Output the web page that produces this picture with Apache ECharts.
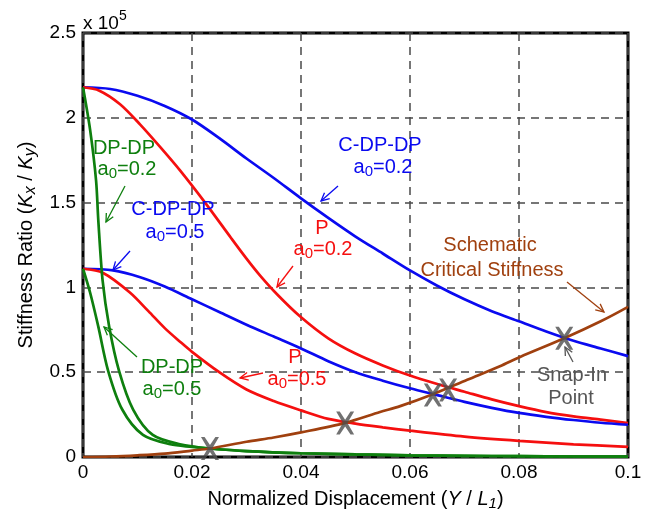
<!DOCTYPE html>
<html>
<head>
<meta charset="utf-8">
<script src="https://cdn.jsdelivr.net/npm/echarts@6/dist/echarts.min.js"></script>
<style>
  html, body { margin: 0; padding: 0; background: #fff; }
  #chart { width: 661px; height: 516px; }
</style>
</head>
<body>
<div id="chart"></div>
<script>
// stiffness ratio curves, y in units of 1e5
var cdp02X = [0, 0.005, 0.01, 0.015, 0.02, 0.025, 0.03, 0.035, 0.04, 0.045, 0.05, 0.055, 0.06, 0.065, 0.07, 0.075, 0.08, 0.085, 0.09, 0.095, 0.1];
var cdp02Y = [2.18, 2.17, 2.13, 2.07, 1.99, 1.88, 1.76, 1.645, 1.525, 1.41, 1.30, 1.20, 1.10, 1.01, 0.93, 0.86, 0.80, 0.74, 0.685, 0.64, 0.595];

var p02X = [0, 0.003, 0.0068, 0.0105, 0.0141, 0.0178, 0.0224, 0.0272, 0.030, 0.0325, 0.0356, 0.0398, 0.045, 0.05, 0.055, 0.06, 0.065, 0.07, 0.075, 0.08, 0.085, 0.09, 0.095, 0.1];
var p02Y = [2.18, 2.16, 2.08, 1.96, 1.83, 1.69, 1.50, 1.29, 1.17, 1.07, 0.96, 0.83, 0.70, 0.61, 0.54, 0.48, 0.43, 0.385, 0.34, 0.30, 0.265, 0.24, 0.22, 0.20];

var cdp05X = [0, 0.0055, 0.0105, 0.015, 0.02, 0.025, 0.03, 0.035, 0.04, 0.045, 0.05, 0.055, 0.06, 0.065, 0.07, 0.075, 0.08, 0.085, 0.09, 0.095, 0.1];
var cdp05Y = [1.11, 1.10, 1.06, 1.005, 0.93, 0.855, 0.78, 0.71, 0.64, 0.565, 0.50, 0.45, 0.405, 0.365, 0.325, 0.29, 0.26, 0.237, 0.218, 0.202, 0.19];

var p05X = [0, 0.0037, 0.0086, 0.012, 0.015, 0.0178, 0.02, 0.025, 0.03, 0.035, 0.04, 0.045, 0.05, 0.055, 0.06, 0.07, 0.08, 0.09, 0.1];
var p05Y = [1.11, 1.085, 0.97, 0.86, 0.76, 0.68, 0.62, 0.50, 0.398, 0.33, 0.275, 0.225, 0.197, 0.175, 0.155, 0.12, 0.095, 0.075, 0.06];

var dp02X = [0, 0.0013, 0.0024, 0.0028, 0.0036, 0.0048, 0.0066, 0.0092, 0.0128, 0.0178, 0.0233, 0.03, 0.04, 0.05, 0.06, 0.07, 0.08, 0.09, 0.1];
var dp02Y = [2.18, 1.93, 1.63, 1.40, 1.04, 0.77, 0.51, 0.28, 0.13, 0.075, 0.05, 0.035, 0.022, 0.015, 0.01, 0.007, 0.005, 0.003, 0.002];

var dp05X = [0, 0.0013, 0.0028, 0.0046, 0.0072, 0.011, 0.016, 0.02, 0.0233, 0.03, 0.04, 0.05, 0.06, 0.07, 0.08, 0.09, 0.1];
var dp05Y = [1.11, 0.97, 0.77, 0.51, 0.28, 0.13, 0.075, 0.06, 0.05, 0.035, 0.022, 0.015, 0.01, 0.007, 0.005, 0.003, 0.002];

var critX = [0, 0.005, 0.01, 0.015, 0.02, 0.0233, 0.03, 0.035, 0.04, 0.048, 0.0545, 0.0582, 0.0642, 0.0705, 0.0765, 0.0802, 0.0883, 0.095, 0.1];
var critY = [0, 0.003, 0.01, 0.02, 0.038, 0.05, 0.09, 0.115, 0.145, 0.20, 0.265, 0.30, 0.37, 0.455, 0.535, 0.59, 0.70, 0.80, 0.885];

// snap-in points
var snapX = [0.0233, 0.0481, 0.0642, 0.067, 0.0883];
var snapY = [0.05, 0.20, 0.366, 0.395, 0.70];

var xTicks = [0, 0.02, 0.04, 0.06, 0.08, 0.1];

function pairs(xs, ys) {
  return xs.map(function (x, i) { return [x, ys[i]]; });
}

var FONT = 'Liberation Sans, Arial, Helvetica, sans-serif';
var BLUE = '#0a0af0', RED = '#f50f0f', GREEN = '#0e7f0e', BROWN = '#a0400f', GRAY = '#555555';

function curve(name, xs, ys, color) {
  return {
    name: name,
    type: 'line',
    data: pairs(xs, ys),
    symbol: 'none',
    smooth: 0.3,
    lineStyle: { color: color, width: 2.7 },
    z: 3
  };
}

// annotation helpers (pixel positions)
function label(x, y, text, color) {
  return {
    type: 'text', x: x, y: y, z: 10,
    style: {
      text: text, fill: color, font: '20px ' + FONT,
      align: 'center', verticalAlign: 'middle',
      rich: {
        t: { fontSize: 20, fontFamily: FONT, lineHeight: 24, verticalAlign: 'middle' },
        s: { fontSize: 15, fontFamily: FONT, lineHeight: 15, verticalAlign: 'bottom' }
      }
    }
  };
}
function sub(base, s, rest) {
  return '{t|' + base + '}{s|' + s + '}{t|' + rest + '}';
}
function arrow(x1, y1, x2, y2, color) {
  var a = Math.atan2(y2 - y1, x2 - x1), L = 9, w = 0.45;
  var p1 = [x2 - L * Math.cos(a - w), y2 - L * Math.sin(a - w)];
  var p2 = [x2 - L * Math.cos(a + w), y2 - L * Math.sin(a + w)];
  return [
    { type: 'polyline', z: 10, shape: { points: [[x1, y1], [x2, y2]] }, style: { stroke: color, lineWidth: 1.3, fill: null } },
    { type: 'polyline', z: 10, shape: { points: [p1, [x2, y2], p2] }, style: { stroke: color, lineWidth: 1.3, fill: null } }
  ];
}

var graphics = [
  { type: 'text', x: 83, y: 9, z: 10, style: {
      text: '{t|x 10}{u|5}', fill: '#000',
      rich: {
        t: { fontSize: 19, fontFamily: FONT, lineHeight: 24, verticalAlign: 'bottom' },
        u: { fontSize: 14, fontFamily: FONT, lineHeight: 14, verticalAlign: 'top' }
      } } },
  label(124, 148, '{t|DP-DP}', GREEN),
  label(127, 169, sub('a', '0', '=0.2'), GREEN),
  label(173, 209, '{t|C-DP-DP}', BLUE),
  label(175, 232, sub('a', '0', '=0.5'), BLUE),
  label(380, 145, '{t|C-DP-DP}', BLUE),
  label(383, 167, sub('a', '0', '=0.2'), BLUE),
  label(322, 228, '{t|P}', RED),
  label(323, 249, sub('a', '0', '=0.2'), RED),
  label(295, 357, '{t|P}', RED),
  label(297, 379, sub('a', '0', '=0.5'), RED),
  label(172, 367, '{t|DP-DP}', GREEN),
  label(172, 389, sub('a', '0', '=0.5'), GREEN),
  label(490, 245, '{t|Schematic}', BROWN),
  label(492, 270, '{t|Critical Stiffness}', BROWN),
  label(572, 375, '{t|Snap-In}', GRAY),
  label(571, 398, '{t|Point}', GRAY)
].concat(
  arrow(125, 186, 106, 222, GREEN),
  arrow(130, 251, 113, 270, BLUE),
  arrow(338, 186, 321, 201, BLUE),
  arrow(293, 266, 277, 287, RED),
  arrow(263, 373, 240, 378, RED),
  arrow(137, 357, 104, 327, GREEN),
  arrow(567, 282, 604, 312, BROWN),
  arrow(573, 362, 565, 347, GRAY)
);

var chart = echarts.init(document.getElementById('chart'));
chart.setOption({
  animation: false,
  backgroundColor: '#fff',
  grid: { left: 83, right: 33, top: 33, bottom: 59, show: true, borderColor: '#000', borderWidth: 3, backgroundColor: 'transparent' },
  xAxis: {
    type: 'value', min: 0, max: 0.1, interval: 0.02,
    name: '{n|Normalized Displacement (}{i|Y}{n| / }{i|L}{s|1}{n|)}',
    nameLocation: 'middle', nameGap: 30,
    nameTextStyle: {
      rich: {
        n: { fontSize: 20, fontFamily: FONT, color: '#000', lineHeight: 24, verticalAlign: 'middle' },
        i: { fontSize: 20, fontFamily: FONT, fontStyle: 'italic', color: '#000', lineHeight: 24, verticalAlign: 'middle' },
        s: { fontSize: 15, fontFamily: FONT, fontStyle: 'italic', color: '#000', lineHeight: 15, verticalAlign: 'bottom' }
      }
    },
    axisLine: { show: false },
    axisTick: { show: false },
    axisLabel: { color: '#000', fontSize: 19, fontFamily: FONT, margin: 6,
      formatter: function (v) { return xTicks.indexOf(Math.round(v * 100) / 100) >= 0 ? String(Math.round(v * 100) / 100) : ''; } },
    splitLine: { show: true, lineStyle: { color: '#4a4a4a', width: 1.5, type: [8, 6] } }
  },
  yAxis: {
    type: 'value', min: 0, max: 2.5, interval: 0.5,
    name: '{n|Stiffness Ratio (}{i|K}{s|x}{n| / }{i|K}{s|y}{n|)}',
    nameLocation: 'middle', nameGap: 38, nameRotate: 90,
    nameTextStyle: {
      rich: {
        n: { fontSize: 20, fontFamily: FONT, color: '#000', lineHeight: 24, verticalAlign: 'middle' },
        i: { fontSize: 20, fontFamily: FONT, fontStyle: 'italic', color: '#000', lineHeight: 24, verticalAlign: 'middle' },
        s: { fontSize: 16, fontFamily: FONT, fontStyle: 'italic', color: '#000', lineHeight: 16, verticalAlign: 'bottom' }
      }
    },
    axisLine: { show: false },
    axisTick: { show: false },
    axisLabel: { color: '#000', fontSize: 19, fontFamily: FONT, margin: 7 },
    splitLine: { show: true, lineStyle: { color: '#4a4a4a', width: 1.5, type: [8, 6] } }
  },
  series: [
    curve('C-DP-DP a0=0.2', cdp02X, cdp02Y, BLUE),
    curve('P a0=0.2', p02X, p02Y, RED),
    curve('C-DP-DP a0=0.5', cdp05X, cdp05Y, BLUE),
    curve('P a0=0.5', p05X, p05Y, RED),
    curve('DP-DP a0=0.2', dp02X, dp02Y, GREEN),
    curve('DP-DP a0=0.5', dp05X, dp05Y, GREEN),
    curve('Schematic Critical Stiffness', critX, critY, BROWN),
    {
      name: 'Snap-In Point', type: 'scatter', data: pairs(snapX, snapY),
      symbol: 'path://M0,0L4,0L10,7L16,0L20,0L12.5,10L20,20L16,20L10,13L4,20L0,20L7.5,10Z',
      symbolSize: [18, 23], itemStyle: { color: '#4d4d4d' }, z: 5
    }
  ],
  graphic: graphics
});
</script>
</body>
</html>
